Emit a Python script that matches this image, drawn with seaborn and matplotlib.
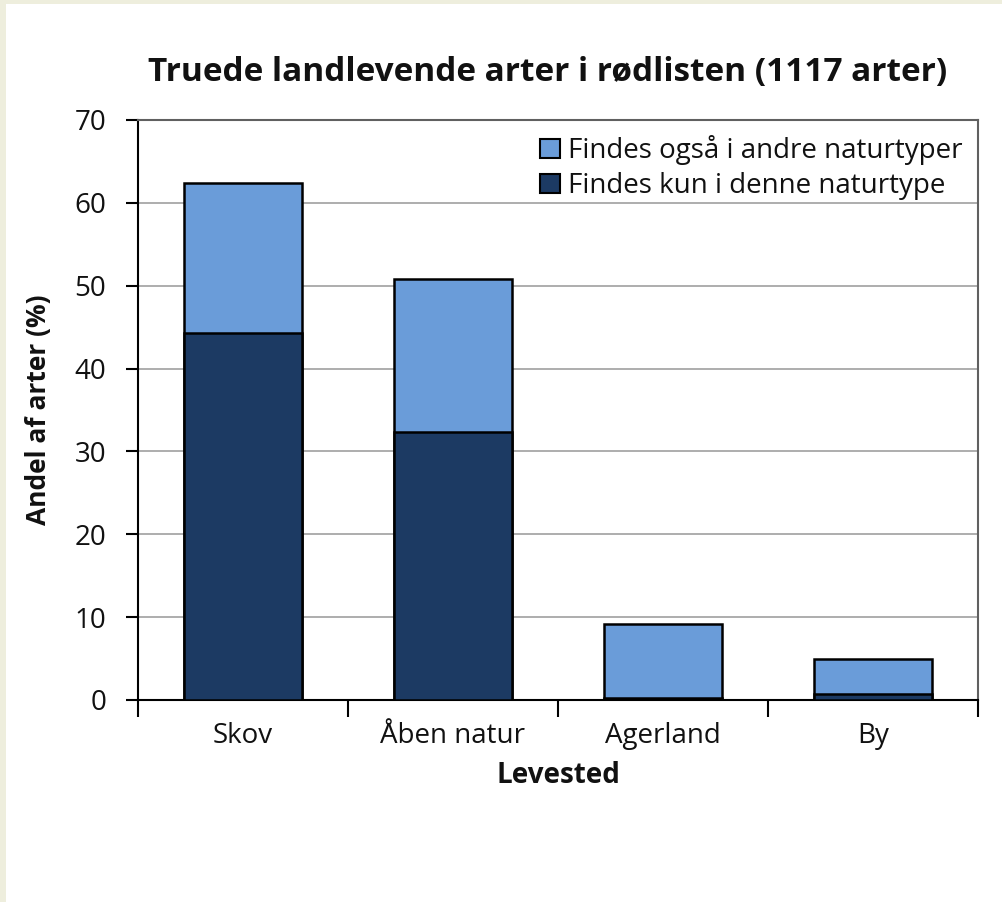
import matplotlib
matplotlib.use("Agg")
import matplotlib.pyplot as plt
import pandas as pd
import seaborn as sns
from matplotlib.patches import Rectangle, Patch

categories = ["Skov", "Åben natur", "Agerland", "By"]
only_here = [44.3, 32.3, 0.3, 0.7]
also_other = [18.1, 18.5, 8.9, 4.2]
total = [a + b for a, b in zip(only_here, also_other)]

title = "Truede landlevende arter i rødlisten (1117 arter)"
lab_also = "Findes også i andre naturtyper"
lab_only = "Findes kun i denne naturtype"

light = "#6a9cd9"
dark = "#1c3a63"
txt = "#111111"

sns.set_style("white")
plt.rcParams["font.family"] = ["Open Sans", "DejaVu Sans"]
plt.rcParams["text.color"] = txt
plt.rcParams["axes.labelcolor"] = txt
plt.rcParams["xtick.color"] = txt
plt.rcParams["ytick.color"] = txt

df = pd.DataFrame({"Levested": categories, "total": total, "only": only_here})

fig = plt.figure(figsize=(10.03, 9.02), dpi=100)
fig.patch.set_facecolor("#eeeedd")
fig.patches.append(Rectangle((6 / 1003, 0), 1, 1 - 4 / 902, transform=fig.transFigure,
                             facecolor="white", edgecolor="none", zorder=-5))
ax = fig.add_axes([138 / 1003, 1 - 700 / 902, 840 / 1003, 580 / 902])

sns.barplot(data=df, x="Levested", y="total", color=light, edgecolor="black",
            linewidth=1.8, width=0.56, saturation=1, ax=ax, zorder=3)
sns.barplot(data=df, x="Levested", y="only", color=dark, edgecolor="black",
            linewidth=1.8, width=0.56, saturation=1, ax=ax, zorder=4)

ax.set_ylim(0, 70)
ax.set_xlim(-0.5, 3.5)
ax.set_yticks(range(0, 71, 10))
ax.yaxis.grid(True, color="#a0a0a0", linewidth=1.2, zorder=0)
ax.set_axisbelow(True)

for s in ["top", "right"]:
    ax.spines[s].set_color("#606060")
    ax.spines[s].set_linewidth(1.5)
for s in ["left", "bottom"]:
    ax.spines[s].set_color("black")
    ax.spines[s].set_linewidth(1.5)

ax.tick_params(axis="y", direction="out", length=9, width=1.5, color="black",
               labelsize=20, pad=14, left=True)
ax.tick_params(axis="x", which="major", length=0, labelsize=20, pad=16)
ax.set_xticks([-0.5, 0.5, 1.5, 2.5, 3.5], minor=True)
ax.tick_params(axis="x", which="minor", direction="out", length=12, width=1.5,
               color="black", bottom=True)

ax.set_xlabel("Levested", fontsize=20, fontweight="bold", labelpad=8)
ax.set_ylabel("Andel af arter (%)", fontsize=19, fontweight="bold", labelpad=16)

fig.text(548 / 1003, 1 - 72 / 902, title, ha="center", va="center",
         fontsize=24, fontweight="bold")

handles = [Patch(facecolor=light, edgecolor="black", linewidth=1.5, label=lab_also),
           Patch(facecolor=dark, edgecolor="black", linewidth=1.5, label=lab_only)]
ax.legend(handles=handles, loc="upper right", frameon=False, fontsize=20,
          handlelength=0.7, handleheight=0.7, handletextpad=0.3, labelspacing=0.25,
          bbox_to_anchor=(1.0, 1.0), borderaxespad=0.15)

fig.savefig("out.png", dpi=100, facecolor=fig.get_facecolor())
